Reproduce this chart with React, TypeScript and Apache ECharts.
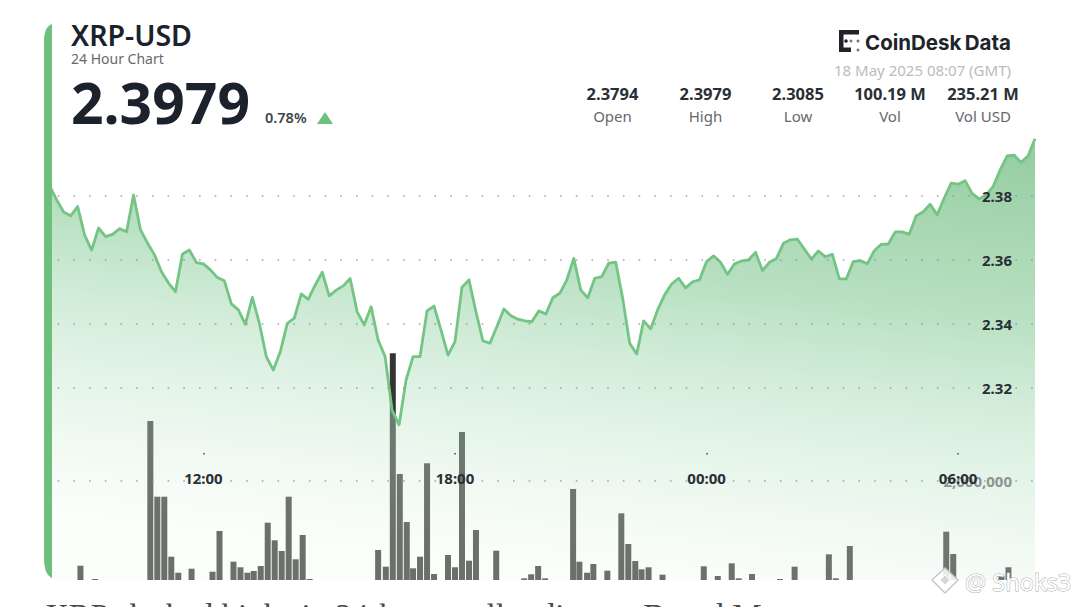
import React, { useEffect, useRef } from "react";
import * as echarts from "echarts";

const priceStartMinute = 500;
const priceStepMinutes = 10;
const prices = [
  2.3831, 2.3788, 2.375, 2.3738, 2.3767, 2.3678, 2.3631, 2.37, 2.3673, 2.368, 2.3698, 2.3688,
  2.3803, 2.3694, 2.3653, 2.3616, 2.3563, 2.3528, 2.3501, 2.3619, 2.3631, 2.3592, 2.3588, 2.3569,
  2.3545, 2.3535, 2.3463, 2.3444, 2.3399, 2.3483, 2.3403, 2.3298, 2.3256, 2.3313, 2.3402, 2.3418,
  2.3494, 2.3477, 2.3522, 2.3562, 2.3488, 2.3506, 2.3519, 2.3542, 2.3438, 2.3397, 2.3454, 2.335,
  2.3298, 2.3131, 2.3085, 2.3225, 2.3298, 2.3298, 2.3441, 2.3456, 2.3381, 2.3303, 2.3345, 2.3515,
  2.3538, 2.3438, 2.3347, 2.334, 2.3392, 2.3447, 2.3426, 2.3415, 2.341, 2.3407, 2.3441, 2.3431,
  2.3482, 2.3496, 2.3538, 2.3605, 2.3506, 2.3482, 2.3543, 2.3548, 2.359, 2.3593, 2.348, 2.334,
  2.3306, 2.341, 2.3385, 2.3444, 2.3491, 2.3525, 2.3543, 2.3513, 2.3532, 2.3538, 2.3595, 2.3613,
  2.3593, 2.3555, 2.3588, 2.3597, 2.36, 2.3624, 2.3567, 2.3593, 2.3605, 2.3652, 2.3663, 2.3665,
  2.3634, 2.3603, 2.3628, 2.361, 2.3618, 2.3541, 2.3541, 2.3595, 2.3598, 2.3588, 2.3629, 2.3649,
  2.365, 2.3688, 2.3688, 2.368, 2.3738, 2.3751, 2.3774, 2.3741, 2.3793, 2.384, 2.3837, 2.3848,
  2.3808, 2.3791, 2.3803, 2.3829, 2.3881, 2.3925, 2.3928, 2.3905, 2.3925, 2.3979,
];

const volumeMinutes = [
  544, 565, 644, 654, 664, 674, 684, 703, 733, 743, 763, 773, 783, 792, 802, 812, 822, 832, 842, 852,
  862, 872, 970, 981, 991, 1001, 1011, 1020, 1030, 1040, 1050, 1070, 1080, 1090, 1100, 1110, 1139,
  1179, 1189, 1199, 1209, 1249, 1258, 1269, 1278, 1298, 1318, 1328, 1338, 1347, 1357, 1377, 1436,
  1456, 1476, 1486, 1505, 1545, 1566, 1615, 1625, 1645, 1783, 1793, 1862, 1872,
];
const volumes = [
  289000, 20000, 3212000, 1683000, 1683000, 471000, 147000, 228000, 168000, 990000, 370000, 257000,
  147000, 182000, 283000, 1158000, 802000, 586000, 1683000, 418000, 909000, 20000, 606000, 269000,
  4580000, 2141000, 1172000, 236000, 471000, 2358000, 121000, 505000, 257000, 2990000, 390000,
  1010000, 592000, 34000, 115000, 283000, 34000, 1838000, 370000, 147000, 323000, 188000, 1347000,
  727000, 384000, 216000, 257000, 107000, 277000, 81000, 337000, 34000, 121000, 20000, 269000,
  519000, 34000, 687000, 976000, 525000, 81000, 257000,
];

const timeTicks = [720, 1080, 1440, 1800];
const priceTicks = [2.32, 2.34, 2.36, 2.38];
const volumeTicks = [2000000];

const statValues = ["2.3794", "2.3979", "2.3085", "100.19 M", "235.21 M"];
const statLabels = ["Open", "High", "Low", "Vol", "Vol USD"];
const statCenters = [612.5, 705.5, 798, 890, 983];

const INK = "#1b222c";
const GREEN = "#6cc07c";
const FONT = "'Noto Sans', sans-serif";

const txt = (text: string, x: number, y: number, fontSize: number, fontWeight: any, fill: string, textAlign = "left", fontFamily = FONT, extra: any = {}) => ({
  type: "text",
  z: 20,
  silent: true,
  style: { text, x, y, fontSize, fontWeight, fill, textAlign, textVerticalAlign: "middle", fontFamily, ...extra },
});

const hhmm = (m: number) => {
  const t = m % 1440;
  return `${String(Math.floor(t / 60)).padStart(2, "0")}:${String(t % 60).padStart(2, "0")}`;
};

export default function App() {
  const ref = useRef<HTMLDivElement>(null);
  useEffect(() => {
    echarts.graphic.registerShape(
      "cardStrip",
      echarts.graphic.extendPath("M52 24 C46 26 44 33 44 42 L44 558 C44 569 47 576 52 578 Z" as any, {} as any) as any
    );
    echarts.graphic.registerShape(
      "logoMark",
      echarts.graphic.extendPath("M839 30 L859 30 L859 34.5 L843.5 34.5 L843.5 47.5 L851 47.5 L851 52 L839 52 Z" as any, {} as any) as any
    );
    const chart = echarts.init(ref.current!, undefined, { renderer: "svg" });
    const dottedLine = {
      show: true,
      lineStyle: { color: "#8f8f8f", width: 1.6, type: [1.6, 14.1], dashOffset: 9.7, cap: "butt", opacity: 0.8 },
    };
    chart.setOption({
      animation: false,
      backgroundColor: "#ffffff",
      grid: { left: 52, right: 45, top: 132, bottom: 27, containLabel: false, outerBoundsMode: "none" },
      xAxis: {
        type: "value",
        min: 503.3,
        max: 1910,
        position: "bottom",
        offset: -127,
        z: 5,
        axisLine: { show: false },
        splitLine: { show: false },
        axisTick: { show: true, length: 1.5, customValues: timeTicks, lineStyle: { color: "#444", width: 1.5 } },
        axisLabel: {
          show: true,
          customValues: timeTicks,
          margin: 17,
          fontSize: 15,
          fontWeight: 700,
          color: "#2a2f36",
          fontFamily: FONT,
          formatter: (v: number) => hhmm(v),
        },
      },
      yAxis: [
        {
          type: "value",
          min: 2.26,
          max: 2.4,
          interval: 0.02,
          position: "right",
          z: 5,
          axisLine: { show: false },
          axisTick: { show: false, customValues: priceTicks },
          splitLine: dottedLine,
          axisLabel: {
            inside: true,
            customValues: priceTicks,
            margin: 23,
            fontSize: 15,
            fontWeight: 700,
            color: "#2a2f36",
            fontFamily: FONT,
            formatter: (v: number) => v.toFixed(2),
          },
        },
        {
          type: "value",
          min: 0,
          max: 9050000,
          interval: 1000000,
          position: "right",
          z: 5,
          axisLine: { show: false },
          axisTick: { show: false, customValues: volumeTicks },
          splitLine: dottedLine,
          axisLabel: {
            inside: true,
            customValues: volumeTicks,
            margin: 23,
            fontSize: 15,
            fontWeight: 700,
            color: "#8f9391",
            fontFamily: FONT,
            formatter: (v: number) => v.toLocaleString("en-US"),
          },
        },
      ],
      series: [
        {
          type: "bar",
          yAxisIndex: 1,
          z: 1,
          barWidth: 6,
          silent: true,
          itemStyle: { color: "#333533" },
          data: volumeMinutes.map((m, i) => [m, volumes[i]]),
        },
        {
          type: "line",
          yAxisIndex: 0,
          z: 2,
          silent: true,
          symbol: "none",
          lineStyle: { color: "#74c484", width: 2.8, join: "round" },
          areaStyle: {
            origin: "start",
            color: {
              type: "linear",
              x: 0.85,
              y: 0,
              x2: 0.6,
              y2: 1,
              colorStops: [
                { offset: 0, color: "rgba(100,181,116,0.95)" },
                { offset: 0.35, color: "rgba(135,203,152,0.85)" },
                { offset: 0.65, color: "rgba(180,225,192,0.6)" },
                { offset: 1, color: "rgba(243,250,243,0.42)" },
              ],
            },
          },
          data: prices.map((p, i) => [priceStartMinute + priceStepMinutes * i, p]),
        },
      ],
      graphic: {
        elements: [
          { type: "cardStrip", z: 15, silent: true, style: { fill: GREEN } },
          txt("XRP-USD", 71, 35, 28.5, 600, INK),
          txt("24 Hour Chart", 71, 58, 14, 400, "#666a6e"),
          txt("2.3979", 71, 102, 57, 700, INK),
          txt("0.78%", 265, 117, 14.5, 600, "#40454b"),
          { type: "polygon", z: 20, silent: true, shape: { points: [[317, 124], [325, 112], [333, 124]] }, style: { fill: GREEN } },
          { type: "logoMark", z: 20, silent: true, style: { fill: "#20242a" } },
          { type: "circle", z: 20, silent: true, shape: { cx: 846, cy: 41, r: 1.8 }, style: { fill: "#20242a" } },
          { type: "circle", z: 20, silent: true, shape: { cx: 851, cy: 41, r: 1.5 }, style: { fill: "#77797c" } },
          { type: "circle", z: 20, silent: true, shape: { cx: 858, cy: 41, r: 1.5 }, style: { fill: "#77797c" } },
          { type: "circle", z: 20, silent: true, shape: { cx: 858, cy: 50, r: 1.5 }, style: { fill: "#77797c" } },
          txt("CoinDesk", 865, 42, 20.5, 700, "#20242a", "left", "Inter, sans-serif"),
          txt("Data", 1011, 42, 20.5, 700, "#20242a", "right", "Inter, sans-serif"),
          txt("18 May 2025 08:07 (GMT)", 1011, 70, 15, 400, "#b9bcbd", "right"),
          ...statValues.map((s, i) => txt(s, statCenters[i], 93, 16.5, 700, "#2a2f36", "center")),
          ...statLabels.map((s, i) => txt(s, statCenters[i], 116, 15, 400, "#64686c", "center")),
          txt("XRP slashed highs in 24-hours rally; dips on Broad M", 45, 616, 33, 400, "#4a4a4a", "left", "'Liberation Serif', serif"),
          { type: "polygon", z: 21, silent: true, shape: { points: [[945, 568], [958, 580], [945, 593], [932, 580]] }, style: { fill: "rgba(255,255,255,0.85)", stroke: "#c6c8c8", lineWidth: 1.5 } },
          { type: "polygon", z: 21, silent: true, shape: { points: [[945, 575], [950, 580], [945, 585], [940, 580]] }, style: { fill: "#d5d7d7", stroke: "#ffffff", lineWidth: 1 } },
          txt("@ Shoks3", 965, 582, 23.5, 400, "#ffffff", "left", FONT, { stroke: "#a9adad", lineWidth: 1 }),
        ],
      },
    });
    return () => chart.dispose();
  }, []);
  return <div ref={ref} style={{ position: "fixed", left: 0, top: 0, width: 1080, height: 607 }} />;
}
